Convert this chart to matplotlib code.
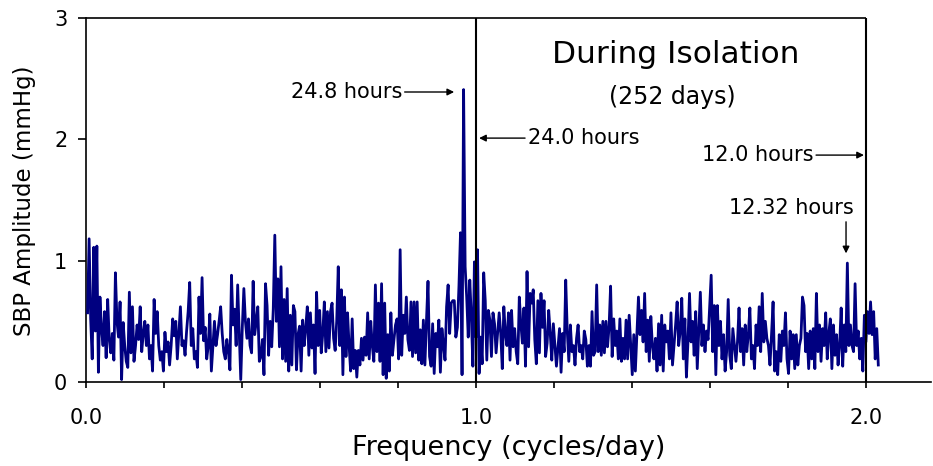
import numpy as np
import matplotlib
matplotlib.use('Agg')
import matplotlib.pyplot as plt
from matplotlib.ticker import MultipleLocator

# Spectrum of SBP amplitude, one value per 1/252 cycles/day step
amp = [
    0.57, 1.18, 0.52, 0.19, 1.11, 0.42, 1.12, 0.08, 0.70, 0.44,
    0.30, 0.58, 0.20, 0.68, 0.35, 0.24, 0.40, 0.18, 0.90, 0.50,
    0.37, 0.66, 0.02, 0.49, 0.30, 0.17, 0.12, 0.74, 0.24, 0.62,
    0.17, 0.30, 0.47, 0.35, 0.62, 0.25, 0.40, 0.50, 0.30, 0.47,
    0.19, 0.30, 0.09, 0.68, 0.40, 0.58, 0.30, 0.18, 0.25, 0.09,
    0.41, 0.25, 0.33, 0.14, 0.30, 0.52, 0.38, 0.50, 0.19, 0.40,
    0.62, 0.30, 0.34, 0.22, 0.42, 0.58, 0.82, 0.30, 0.44, 0.19,
    0.25, 0.12, 0.70, 0.40, 0.86, 0.34, 0.45, 0.19, 0.30, 0.56,
    0.09, 0.30, 0.50, 0.30, 0.39, 0.50, 0.62, 0.40, 0.25, 0.19,
    0.35, 0.25, 0.10, 0.88, 0.47, 0.60, 0.30, 0.80, 0.40, 0.02,
    0.45, 0.77, 0.50, 0.36, 0.52, 0.30, 0.24, 0.83, 0.39, 0.50,
    0.62, 0.17, 0.21, 0.35, 0.06, 0.81, 0.63, 0.22, 0.50, 0.29,
    0.60, 1.21, 0.50, 0.85, 0.29, 0.95, 0.19, 0.68, 0.17, 0.77,
    0.09, 0.55, 0.14, 0.63, 0.58, 0.10, 0.39, 0.46, 0.09, 0.51,
    0.30, 0.45, 0.62, 0.22, 0.57, 0.28, 0.47, 0.07, 0.74, 0.30,
    0.59, 0.24, 0.40, 0.66, 0.25, 0.58, 0.28, 0.58, 0.65, 0.36,
    0.26, 0.50, 0.95, 0.30, 0.76, 0.06, 0.70, 0.21, 0.57, 0.30,
    0.09, 0.52, 0.11, 0.26, 0.04, 0.26, 0.14, 0.36, 0.18, 0.37,
    0.22, 0.57, 0.19, 0.50, 0.30, 0.17, 0.80, 0.25, 0.65, 0.17,
    0.81, 0.06, 0.65, 0.03, 0.39, 0.09, 0.57, 0.22, 0.35, 0.47,
    0.52, 0.19, 1.09, 0.22, 0.55, 0.40, 0.70, 0.35, 0.26, 0.66,
    0.21, 0.66, 0.24, 0.66, 0.18, 0.43, 0.15, 0.51, 0.14, 0.50,
    0.83, 0.21, 0.13, 0.48, 0.07, 0.40, 0.29, 0.51, 0.08, 0.44,
    0.30, 0.18, 0.62, 0.80, 0.40, 0.65, 0.67, 0.67, 0.37, 0.45,
    0.79, 1.23, 0.06, 2.41, 0.95, 0.70, 0.37, 0.84, 0.54, 0.13,
    0.99, 0.37, 1.09, 0.07, 0.37, 0.15, 0.90, 0.67, 0.18, 0.59,
    0.51, 0.21, 0.57, 0.48, 0.24, 0.40, 0.57, 0.40, 0.11, 0.62,
    0.40, 0.30, 0.57, 0.18, 0.59, 0.29, 0.44, 0.25, 0.15, 0.70,
    0.48, 0.32, 0.61, 0.13, 0.91, 0.29, 0.73, 0.65, 0.76, 0.35,
    0.15, 0.67, 0.24, 0.73, 0.45, 0.67, 0.21, 0.32, 0.59, 0.40,
    0.18, 0.48, 0.30, 0.13, 0.29, 0.44, 0.08, 0.40, 0.25, 0.84,
    0.42, 0.17, 0.47, 0.25, 0.30, 0.14, 0.36, 0.47, 0.25, 0.30,
    0.19, 0.42, 0.35, 0.13, 0.30, 0.13, 0.58, 0.22, 0.25, 0.80,
    0.25, 0.47, 0.22, 0.50, 0.24, 0.50, 0.29, 0.45, 0.79, 0.21,
    0.52, 0.30, 0.42, 0.19, 0.52, 0.17, 0.36, 0.19, 0.51, 0.19,
    0.55, 0.30, 0.06, 0.39, 0.09, 0.39, 0.70, 0.39, 0.59, 0.33,
    0.73, 0.25, 0.51, 0.17, 0.54, 0.30, 0.19, 0.36, 0.09, 0.48,
    0.14, 0.55, 0.09, 0.47, 0.33, 0.42, 0.19, 0.57, 0.14, 0.30,
    0.47, 0.66, 0.30, 0.42, 0.69, 0.19, 0.52, 0.04, 0.33, 0.73,
    0.33, 0.50, 0.22, 0.58, 0.11, 0.42, 0.74, 0.30, 0.47, 0.25,
    0.42, 0.35, 0.61, 0.88, 0.25, 0.63, 0.06, 0.63, 0.30, 0.50,
    0.19, 0.39, 0.09, 0.25, 0.68, 0.22, 0.11, 0.44, 0.30, 0.17,
    0.33, 0.61, 0.25, 0.44, 0.14, 0.47, 0.25, 0.39, 0.61, 0.19,
    0.30, 0.11, 0.47, 0.30, 0.62, 0.25, 0.73, 0.33, 0.50, 0.36,
    0.30, 0.14, 0.39, 0.66, 0.09, 0.25, 0.06, 0.39, 0.17, 0.42,
    0.30, 0.57, 0.19, 0.07, 0.42, 0.19, 0.39, 0.11, 0.39, 0.14,
    0.30, 0.36, 0.70, 0.63, 0.25, 0.40, 0.11, 0.42, 0.19, 0.44,
    0.11, 0.73, 0.25, 0.47, 0.17, 0.44, 0.30, 0.57, 0.19, 0.40,
    0.52, 0.11, 0.47, 0.22, 0.39, 0.14, 0.30, 0.61, 0.13, 0.47,
    0.25, 0.98, 0.30, 0.47, 0.30, 0.25, 0.81, 0.30, 0.42, 0.19,
    0.36, 0.09, 0.55, 0.33, 0.58, 0.40, 0.66, 0.39, 0.58, 0.19,
    0.44, 0.14,
]
n_days = 252
freq = np.arange(1, len(amp) + 1) / n_days

# reference periods (24 h and 12 h) marked with vertical lines
ref_freqs = [1.0, 2.0]
x_ticks = [0.0, 1.0, 2.0]
x_tick_labels = ['0.0', '1.0', '2.0']
y_ticks = [0, 1, 2, 3]

fig = plt.figure(figsize=(9.33, 4.66), dpi=100)
ax = fig.add_axes([0.0922, 0.1803, 0.9057, 0.7811])

ax.plot(freq, amp, color='#000080', lw=2.0, zorder=3)

for f in ref_freqs:
    ax.axvline(f, color='black', lw=1.5, zorder=4)
ax.hlines(3, 0, ref_freqs[-1], color='black', lw=1.2, clip_on=False)

ax.set_xlim(0, 2.167)
ax.set_ylim(0, 3)
ax.spines['top'].set_visible(False)
ax.spines['right'].set_visible(False)
ax.spines['left'].set_linewidth(1.2)
ax.spines['bottom'].set_linewidth(1.2)

ax.set_xticks(x_ticks)
ax.set_xticklabels(x_tick_labels)
ax.xaxis.set_minor_locator(MultipleLocator(0.2))
ax.set_yticks(y_ticks)
ax.tick_params(axis='x', which='both', direction='out', length=4.5, width=1.2,
               labelsize=15, pad=14)
ax.tick_params(axis='y', direction='out', length=5.5, width=1.2,
               labelsize=15, pad=8)

ax.set_xlabel('Frequency (cycles/day)', fontsize=19.5)
ax.xaxis.set_label_coords(0.5, -0.181)
ax.xaxis.label.set_va('center')
ax.set_ylabel('SBP Amplitude (mmHg)', fontsize=16.5)
ax.yaxis.set_label_coords(-0.073, 0.497)
ax.yaxis.label.set_va('center')

# Title block
ax.text(1.513, 2.70, 'During Isolation', fontsize=22.5, ha='center', va='center')
ax.text(1.503, 2.35, '(252 days)', fontsize=17, ha='center', va='center')

# Annotations
arrow = dict(arrowstyle='-|>', color='black', lw=1.0, mutation_scale=10,
             shrinkA=0, shrinkB=0)
ax.annotate('24.8 hours', xy=(0.944, 2.39), xytext=(0.81, 2.39),
            fontsize=15, ha='right', va='center', arrowprops=arrow)
ax.annotate('24.0 hours', xy=(1.008, 2.01), xytext=(1.133, 2.01),
            fontsize=15, ha='left', va='center', arrowprops=arrow)
ax.annotate('12.0 hours', xy=(1.995, 1.87), xytext=(1.865, 1.87),
            fontsize=15, ha='right', va='center', arrowprops=arrow)
ax.text(1.808, 1.43, '12.32 hours', fontsize=15, ha='center', va='center')
ax.annotate('', xy=(1.949, 1.06), xytext=(1.949, 1.32), arrowprops=arrow)

plt.savefig('out.png', dpi=100)
